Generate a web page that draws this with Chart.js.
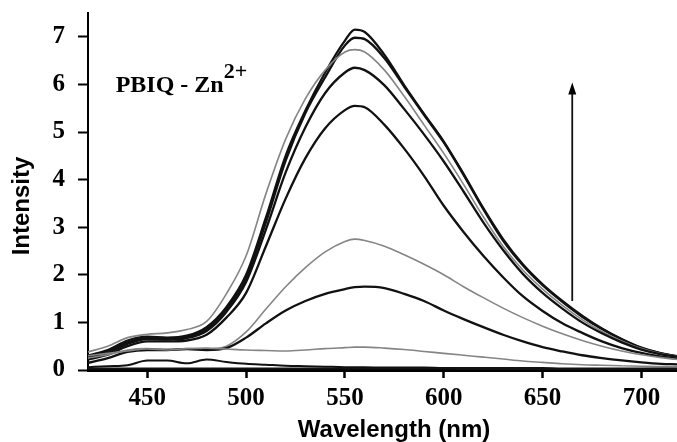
<!DOCTYPE html>
<html><head><meta charset="utf-8">
<script src="https://cdn.jsdelivr.net/npm/chart.js@4"></script>
<style>html,body{margin:0;padding:0;background:#fff}</style>
</head><body>
<canvas id="c" width="677" height="442"></canvas>
<script>
// ---- data ----
const wavelengths = [420,430,440,450,460,470,480,490,500,510,520,530,540,550,555,560,570,580,590,600,610,620,630,640,650,660,670,680,690,700,710,718];
const seriesA = [0.30,0.42,0.62,0.70,0.68,0.72,0.90,1.32,2.00,3.20,4.50,5.45,6.25,6.92,7.15,7.10,6.62,5.98,5.38,4.80,4.12,3.40,2.75,2.22,1.80,1.45,1.14,0.87,0.65,0.47,0.35,0.29];
const seriesB = [0.28,0.40,0.58,0.68,0.66,0.70,0.86,1.28,1.92,3.10,4.40,5.40,6.15,6.82,6.98,6.95,6.55,5.95,5.36,4.78,4.10,3.38,2.72,2.20,1.78,1.43,1.12,0.86,0.64,0.46,0.35,0.29];
const seriesC = [0.38,0.50,0.68,0.75,0.78,0.85,1.02,1.60,2.40,3.70,4.85,5.70,6.30,6.68,6.73,6.68,6.30,5.75,5.15,4.55,3.90,3.22,2.60,2.10,1.70,1.36,1.06,0.81,0.61,0.45,0.34,0.29];
const seriesD = [0.25,0.36,0.55,0.65,0.64,0.67,0.82,1.22,1.85,2.95,4.15,5.10,5.82,6.25,6.35,6.30,5.98,5.48,4.95,4.38,3.75,3.10,2.52,2.02,1.62,1.29,1.00,0.77,0.58,0.43,0.33,0.28];
const seriesE = [0.22,0.32,0.50,0.60,0.60,0.62,0.74,1.10,1.62,2.60,3.60,4.45,5.08,5.46,5.55,5.52,5.15,4.65,4.08,3.45,2.90,2.40,1.95,1.55,1.24,0.98,0.78,0.60,0.46,0.36,0.28,0.24];
const seriesF = [0.25,0.32,0.42,0.45,0.43,0.45,0.44,0.50,0.80,1.28,1.75,2.15,2.48,2.70,2.75,2.72,2.60,2.42,2.22,2.00,1.75,1.52,1.30,1.10,0.92,0.76,0.62,0.50,0.40,0.32,0.26,0.22];
const seriesG = [0.15,0.25,0.38,0.42,0.42,0.44,0.42,0.46,0.68,0.98,1.25,1.45,1.60,1.70,1.74,1.75,1.72,1.60,1.45,1.25,1.07,0.90,0.74,0.60,0.48,0.39,0.31,0.25,0.20,0.16,0.13,0.12];
const seriesH = [0.30,0.35,0.40,0.44,0.42,0.45,0.46,0.44,0.42,0.41,0.40,0.42,0.45,0.47,0.48,0.48,0.46,0.43,0.39,0.35,0.31,0.27,0.23,0.19,0.16,0.13,0.11,0.10,0.09,0.08,0.07,0.07];
const seriesI = [0.06,0.08,0.10,0.20,0.20,0.14,0.22,0.17,0.13,0.11,0.09,0.08,0.07,0.06,0.06,0.06,0.05,0.05,0.05,0.04,0.04,0.04,0.04,0.04,0.04,0.03,0.03,0.03,0.03,0.03,0.03,0.03];
const seriesJ = [0.03,0.03,0.03,0.03,0.03,0.03,0.03,0.03,0.03,0.03,0.03,0.03,0.03,0.03,0.03,0.03,0.03,0.03,0.03,0.03,0.02,0.02,0.02,0.02,0.02,0.02,0.02,0.02,0.02,0.02,0.02,0.02];
const xTicks = [450,500,550,600,650,700];
const yTicks = [0,1,2,3,4,5,6,7];
const xTitle = 'Wavelength (nm)';
const yTitle = 'Intensity';
const labelMain = 'PBIQ - Zn';
const labelSup = '2+';
const labelAt = [434, 5.83];           // data units (nm, intensity)
const arrowX = 665, arrowFrom = 1.45, arrowTo = 6.0; // data units

const BLACK = '#111', GRAY = '#858585';
function ds(arr, color, w){
  return {data: wavelengths.map((x,i)=>({x, y: arr[i]})), borderColor: color, borderWidth: w,
          pointRadius: 0, fill: false, cubicInterpolationMode: 'monotone'};
}

const overlay = {
  id: 'overlay',
  afterDraw(chart){
    const ctx = chart.ctx, xs = chart.scales.x, ys = chart.scales.y;
    ctx.save();
    ctx.fillStyle = '#000';
    // axis titles
    ctx.font = 'bold 24px "Liberation Sans", Arial, sans-serif';
    ctx.textAlign = 'center'; ctx.textBaseline = 'middle';
    ctx.fillText(xTitle, 394, 430);
    ctx.save(); ctx.translate(22, 206); ctx.rotate(-Math.PI/2);
    ctx.fillText(yTitle, 0, 0); ctx.restore();
    // annotation text
    const lx = xs.getPixelForValue(labelAt[0]), ly = ys.getPixelForValue(labelAt[1]);
    ctx.textAlign = 'left'; ctx.textBaseline = 'alphabetic';
    ctx.font = 'bold 24px "Liberation Serif", "Times New Roman", serif';
    ctx.fillText(labelMain, lx, ly);
    const w = ctx.measureText(labelMain).width;
    ctx.font = 'bold 22px "Liberation Serif", "Times New Roman", serif';
    ctx.fillText(labelSup, lx + w, ly - 14);
    // arrow
    const ax = xs.getPixelForValue(arrowX), ay1 = ys.getPixelForValue(arrowFrom), ay2 = ys.getPixelForValue(arrowTo);
    ctx.strokeStyle = '#111'; ctx.lineWidth = 1.8;
    ctx.beginPath(); ctx.moveTo(ax, ay1); ctx.lineTo(ax, ay2 + 8); ctx.stroke();
    ctx.beginPath(); ctx.moveTo(ax, ay2 - 2); ctx.lineTo(ax - 4, ay2 + 10); ctx.lineTo(ax + 4, ay2 + 10); ctx.closePath(); ctx.fill();
    ctx.restore();
  }
};

new Chart(document.getElementById('c'), {
  type: 'line',
  data: { datasets: [
    ds(seriesJ, BLACK, 2), ds(seriesI, BLACK, 2), ds(seriesH, GRAY, 1.6), ds(seriesG, BLACK, 2.3),
    ds(seriesF, GRAY, 1.6), ds(seriesE, BLACK, 2.3), ds(seriesD, BLACK, 2.3), ds(seriesC, GRAY, 1.6),
    ds(seriesB, BLACK, 2.3), ds(seriesA, BLACK, 2.3)
  ]},
  options: {
    responsive: false, animation: false, devicePixelRatio: 1,
    layout: { padding: { top: 13, left: 0, right: 0, bottom: 0 } },
    plugins: { legend: { display: false }, tooltip: { enabled: false } },
    scales: {
      x: {
        type: 'linear', min: 420, max: 718,
        afterBuildTicks: s => { s.ticks = xTicks.map(v => ({ value: v })); },
        afterFit: s => { s.height = 72; s.paddingLeft = 0; s.paddingRight = 0; },
        grid: { drawOnChartArea: false, drawTicks: true, tickLength: 8, tickWidth: 2.5, tickColor: '#000' },
        border: { display: true, color: '#000', width: 3 },
        ticks: { color: '#000', padding: 6, maxRotation: 0, autoSkip: false,
                 font: { family: '"Liberation Serif", "Times New Roman", serif', weight: 'bold', size: 25 } }
      },
      y: {
        type: 'linear', min: 0, max: 7.5,
        afterBuildTicks: s => { s.ticks = yTicks.map(v => ({ value: v })); },
        afterFit: s => { s.width = 88; s.paddingTop = 0; s.paddingBottom = 0; },
        grid: { drawOnChartArea: false, drawTicks: true, tickLength: 10, tickWidth: 2, tickColor: '#000' },
        border: { display: true, color: '#000', width: 2 },
        ticks: { color: '#000', padding: 13,
                 font: { family: '"Liberation Serif", "Times New Roman", serif', weight: 'bold', size: 25 } }
      }
    }
  },
  plugins: [overlay]
});
</script>
</body></html>
